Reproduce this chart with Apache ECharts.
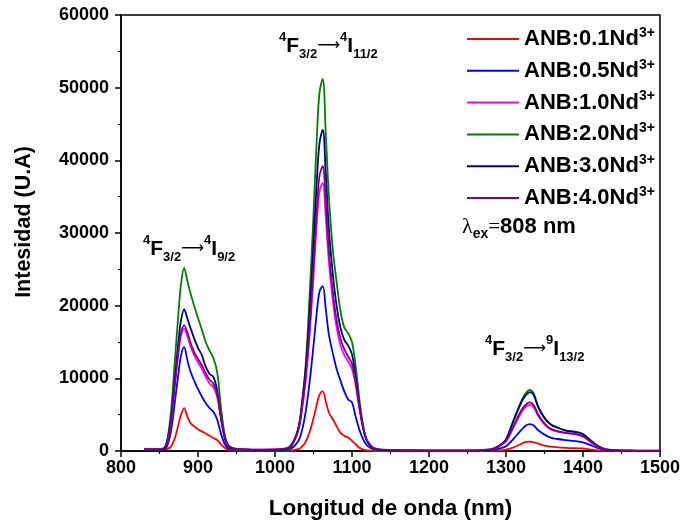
<!DOCTYPE html>
<html>
<head>
<meta charset="utf-8">
<script src="https://cdn.jsdelivr.net/npm/echarts@6/dist/echarts.min.js"></script>
<style>
  html, body { margin: 0; padding: 0; background: #fff; }
  #chart { width: 683px; height: 525px; }
</style>
</head>
<body>
<div id="chart"></div>
<script>
// wavelength grid (nm) shared by every spectrum
var wavelength = [830, 845, 855, 860, 865, 870, 875, 878, 882, 886, 890, 895, 900, 905, 910, 915, 920, 925, 930, 935,
  940, 950, 980, 1010, 1020, 1030, 1035, 1040, 1045, 1050, 1055, 1058, 1062, 1066, 1070, 1075, 1080, 1085, 1090, 1095,
  1100, 1105, 1110, 1115, 1120, 1130, 1150, 1200, 1250, 1280, 1290, 1300, 1310, 1320, 1326, 1331, 1336, 1342, 1350, 1358,
  1367, 1378, 1390, 1400, 1410, 1420, 1430, 1445, 1470, 1500];

var anb01 = [300, 250, 250, 300, 600, 1800, 3800, 5000, 5900, 4800, 3900, 3400, 3000, 2700, 2400, 2100, 1800, 1500, 900, 400,
  150, 50, 30, 30, 60, 250, 600, 1300, 2600, 4500, 6700, 7800, 8200, 6800, 5300, 4400, 3400, 2500, 2100, 1850,
  1400, 900, 400, 200, 80, 30, 20, 20, 20, 30, 80, 200, 500, 1000, 1250, 1300, 1200, 1000, 750, 600,
  500, 420, 380, 360, 200, 100, 40, 20, 10, 10];

var anb05 = [150, 150, 200, 700, 2800, 6800, 11000, 13200, 14300, 12600, 11000, 9700, 8500, 7500, 6600, 5900, 5400, 4300, 2300, 900,
  300, 100, 50, 80, 250, 1300, 2800, 5500, 9500, 14500, 19800, 22000, 22700, 19500, 16000, 13500, 11300, 9700, 8200, 7100,
  6700, 4600, 2800, 1500, 700, 150, 50, 30, 30, 100, 300, 650, 1700, 2900, 3500, 3700, 3500, 2850, 2250, 1850,
  1650, 1500, 1350, 1200, 800, 400, 150, 50, 20, 10];

var anb10 = [200, 200, 300, 1200, 4100, 9000, 13900, 15900, 16800, 15900, 14500, 13200, 12200, 11300, 10200, 9300, 8800, 7400, 4400, 1800,
  700, 300, 200, 250, 650, 2700, 5600, 9800, 16000, 24000, 32500, 35800, 36900, 32000, 26000, 20800, 17000, 14600, 13200, 12300,
  11300, 8900, 5600, 2900, 1300, 300, 150, 80, 80, 200, 600, 1300, 3300, 5300, 6100, 6350, 6000, 4800, 3650, 2950,
  2650, 2450, 2300, 2000, 1250, 550, 200, 80, 50, 40];

var anb20 = [150, 150, 300, 1500, 5500, 12500, 19500, 23000, 25200, 23500, 21800, 20000, 18300, 16700, 15000, 13800, 12800, 10800, 5800, 2100,
  600, 150, 80, 100, 400, 3000, 6500, 12000, 21500, 32500, 44700, 49500, 51200, 43500, 35000, 27800, 23300, 19300, 17000, 16200,
  15000, 11500, 6800, 3200, 1300, 100, 50, 30, 30, 150, 600, 1600, 4300, 6900, 8000, 8400, 7900, 6100, 4600, 3700,
  3250, 2800, 2650, 2350, 1450, 650, 200, 50, 30, 20];

var anb30 = [200, 200, 300, 1300, 4500, 10000, 15500, 18000, 19500, 18300, 17000, 15500, 14200, 13200, 11600, 10600, 10200, 8300, 4500, 1700,
  600, 250, 150, 200, 600, 3000, 6500, 11500, 19000, 28500, 38500, 42500, 44200, 38000, 30500, 24500, 20000, 17000, 15300, 14500,
  13300, 10000, 6000, 3000, 1300, 250, 100, 50, 60, 200, 650, 1600, 4200, 6700, 7700, 8100, 7700, 6000, 4500, 3650,
  3200, 2800, 2600, 2300, 1450, 650, 200, 60, 30, 20];

var anb40 = [250, 250, 350, 1300, 4300, 9300, 14300, 16300, 17300, 16400, 15000, 13600, 12700, 11800, 10700, 9800, 9300, 7700, 4500, 1800,
  700, 300, 200, 300, 700, 2900, 6000, 10500, 17000, 25500, 34500, 38000, 39200, 34000, 27500, 22000, 18000, 15500, 14000, 13000,
  12000, 9300, 5800, 3000, 1400, 350, 150, 80, 80, 250, 650, 1400, 3500, 5600, 6400, 6700, 6300, 5000, 3800, 3050,
  2750, 2500, 2350, 2050, 1300, 600, 250, 100, 60, 50];

var sampleNames = ['ANB:0.1Nd', 'ANB:0.5Nd', 'ANB:1.0Nd', 'ANB:2.0Nd', 'ANB:3.0Nd', 'ANB:4.0Nd'];
var sampleValues = [anb01, anb05, anb10, anb20, anb30, anb40];
var sampleColors = ['#ff0000', '#0000ff', '#ff00ff', '#008000', '#000080', '#800080'];

var xTicks = [800, 900, 1000, 1100, 1200, 1300, 1400, 1500];

var FONT = '"Liberation Sans", Arial, sans-serif';

function pairs(vals) {
  var out = [];
  for (var i = 0; i !== wavelength.length; ++i) {
    out.push([wavelength[i], vals[i]]);
  }
  return out;
}

var series = sampleNames.map(function (name, i) {
  return {
    name: name,
    type: 'line',
    data: pairs(sampleValues[i]),
    smooth: 0.35,
    symbol: 'none',
    lineStyle: { color: sampleColors[i], width: 1.8 },
    itemStyle: { color: sampleColors[i] }
  };
});

// rich styles for the transition labels
var transRich = {
  sup: { fontFamily: FONT, fontWeight: 'bold', fontSize: 13, lineHeight: 13, verticalAlign: 'top', fill: '#000' },
  big: { fontFamily: FONT, fontWeight: 'bold', fontSize: 21, lineHeight: 30, fill: '#000' },
  sub: { fontFamily: FONT, fontWeight: 'bold', fontSize: 13, lineHeight: 13, verticalAlign: 'bottom', fill: '#000' },
  arr: { fontFamily: '"DejaVu Sans", sans-serif', fontSize: 16, lineHeight: 30, fill: '#000' }
};

function transition(upper, lowerJ) {
  return '{sup|4}{big|F}{sub|3/2}{arr|\u27f6}{sup|' + upper + '}{big|I}{sub|' + lowerJ + '}';
}

var chart = echarts.init(document.getElementById('chart'));

chart.setOption({
  animation: false,
  backgroundColor: '#fff',
  grid: {
    left: 121, right: 22, top: 15, bottom: 73,
    show: true, borderColor: '#000', borderWidth: 1.5
  },
  legend: {
    orient: 'vertical',
    left: 462,
    top: 21,
    itemWidth: 52,
    itemHeight: 2,
    itemGap: 7.8,
    icon: 'rect',
    data: sampleNames,
    formatter: function (name) {
      return '{a|' + name + '}{s|3+}';
    },
    textStyle: {
      rich: {
        a: { fontFamily: FONT, fontWeight: 'bold', fontSize: 22, lineHeight: 26, color: '#000' },
        s: { fontFamily: FONT, fontWeight: 'bold', fontSize: 14, lineHeight: 14, verticalAlign: 'top', color: '#000' }
      }
    }
  },
  xAxis: {
    type: 'value',
    min: 800,
    max: 1500,
    interval: 100,
    name: 'Longitud de onda (nm)',
    nameLocation: 'middle',
    nameGap: 46,
    nameTextStyle: { fontFamily: FONT, fontWeight: 'bold', fontSize: 22.5, color: '#000' },
    axisLine: { lineStyle: { color: '#000', width: 1.5 } },
    axisTick: { show: true, inside: false, length: 6, lineStyle: { color: '#000', width: 1.5 } },
    minorTick: { show: true, splitNumber: 2, length: 3, lineStyle: { color: '#000', width: 1.2 } },
    splitLine: { show: false },
    axisLabel: {
      margin: 8,
      fontFamily: FONT, fontWeight: 'bold', fontSize: 18, color: '#000',
      formatter: function (v) { return xTicks.indexOf(v) >= 0 ? String(v) : ''; }
    }
  },
  yAxis: {
    type: 'value',
    min: 0,
    max: 60000,
    interval: 10000,
    name: 'Intesidad (U.A)',
    nameLocation: 'middle',
    nameGap: 86,
    nameTextStyle: { fontFamily: FONT, fontWeight: 'bold', fontSize: 21.5, color: '#000', padding: [0, 0, 0, 22] },
    axisLine: { show: true, lineStyle: { color: '#000', width: 1.5 } },
    axisTick: { show: true, inside: false, length: 6, lineStyle: { color: '#000', width: 1.5 } },
    minorTick: { show: true, splitNumber: 2, length: 3, lineStyle: { color: '#000', width: 1.2 } },
    splitLine: { show: false },
    axisLabel: {
      margin: 12,
      fontFamily: FONT, fontWeight: 'bold', fontSize: 18, color: '#000',
      formatter: function (v) { return String(v); }
    }
  },
  graphic: [
    { type: 'text', left: 279, top: 31, style: { text: transition('4', '11/2'), rich: transRich } },
    { type: 'text', left: 143, top: 234, style: { text: transition('4', '9/2'), rich: transRich } },
    { type: 'text', left: 485, top: 334, style: { text: transition('9', '13/2'), rich: transRich } },
    {
      type: 'text', left: 462, top: 216,
      style: {
        text: '{l|\u03bb}{e|ex}{q|=}{n|808 nm}',
        rich: {
          l: { fontFamily: '"Liberation Serif", serif', fontSize: 22, lineHeight: 28, fill: '#000' },
          e: { fontFamily: FONT, fontWeight: 'bold', fontSize: 14, lineHeight: 14, verticalAlign: 'bottom', fill: '#000' },
          q: { fontFamily: '"Liberation Serif", serif', fontSize: 21, lineHeight: 28, fill: '#000' },
          n: { fontFamily: FONT, fontWeight: 'bold', fontSize: 22, lineHeight: 28, fill: '#000' }
        }
      }
    }
  ],
  series: series
});
</script>
</body>
</html>
